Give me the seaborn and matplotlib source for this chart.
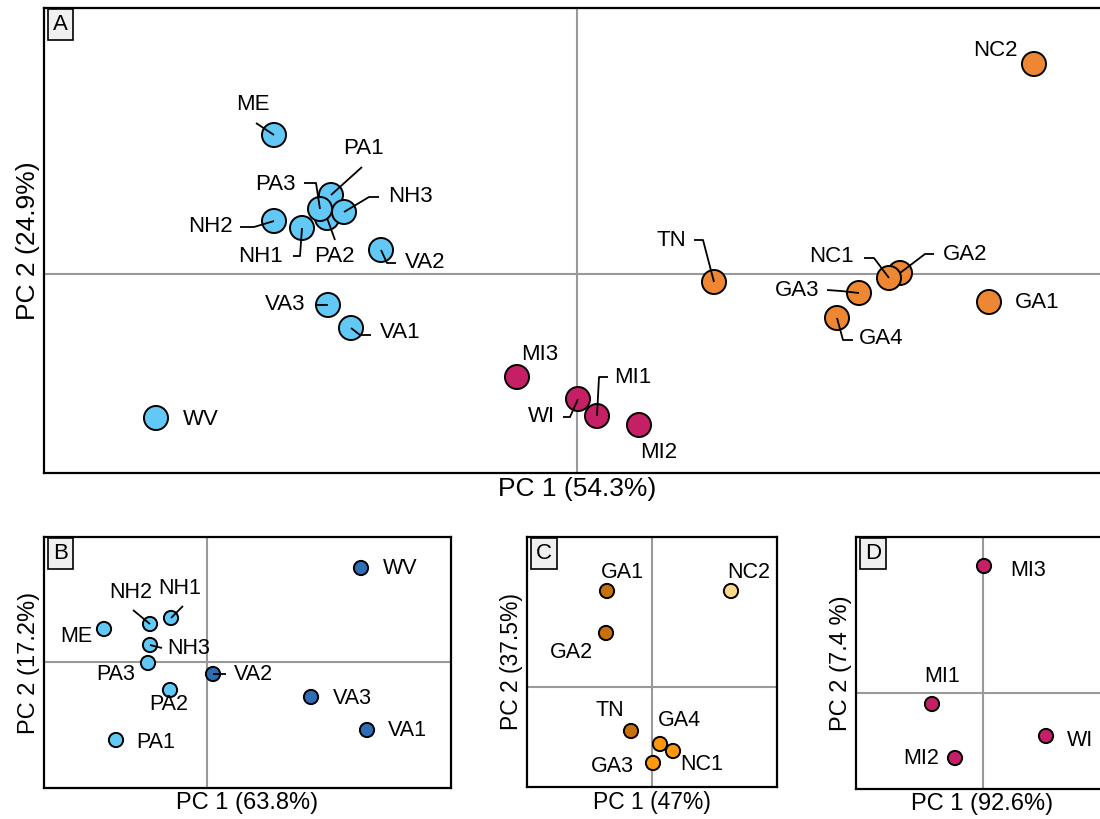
import matplotlib
matplotlib.use("Agg")
import matplotlib.pyplot as plt
import seaborn as sns
import pandas as pd

# ---------------- data ----------------
# Panel A - all populations
a_site = ["ME", "PA1", "PA2", "NH3", "PA3", "NH2", "NH1", "VA2", "VA3", "VA1", "WV",
          "MI3", "WI", "MI1", "MI2",
          "TN", "GA3", "GA4", "GA2", "NC1", "GA1", "NC2"]
a_pc1 = [-3.03, -2.46, -2.50, -2.33, -2.57, -3.03, -2.75, -1.96, -2.49, -2.26, -4.21,
         -0.60, 0.01, 0.20, 0.62,
         1.37, 2.82, 2.60, 3.23, 3.12, 4.12, 4.57]
a_pc2 = [1.39, 0.79, 0.56, 0.62, 0.65, 0.53, 0.46, 0.24, -0.31, -0.54, -1.44,
         -1.03, -1.25, -1.42, -1.51,
         -0.08, -0.19, -0.44, 0.01, -0.04, -0.28, 2.10]
a_group = ["north"] * 11 + ["midwest"] * 4 + ["south"] * 7

# Panel B - northern populations
b_site = ["ME", "NH2", "NH1", "NH3", "PA3", "PA2", "PA1", "VA2", "WV", "VA3", "VA1"]
b_pc1 = [-2.06, -1.14, -0.72, -1.14, -1.18, -0.74, -1.82, 0.12, 3.08, 2.08, 3.20]
b_pc2 = [0.66, 0.76, 0.88, 0.34, -0.02, -0.56, -1.56, -0.24, 1.88, -0.70, -1.36]
b_group = ["ne", "ne", "ne", "ne", "ne", "ne", "ne", "va", "va", "va", "va"]

# Panel C - southern populations
c_site = ["GA1", "GA2", "NC2", "TN", "GA4", "NC1", "GA3"]
c_pc1 = [-0.90, -0.92, 1.58, -0.42, 0.16, 0.42, 0.02]
c_pc2 = [1.92, 1.08, 1.92, -0.88, -1.14, -1.28, -1.52]
c_group = ["dark", "dark", "light", "dark", "mid", "mid", "mid"]

# Panel D - midwest populations
d_site = ["MI3", "MI1", "MI2", "WI"]
d_pc1 = [0.02, -1.02, -0.56, 1.26]
d_pc2 = [2.54, -0.22, -1.30, -0.86]
d_group = ["mw"] * 4

axis_titles = {
    "A": ("PC 1 (54.3%)", "PC 2 (24.9%)"),
    "B": ("PC 1 (63.8%)", "PC 2 (17.2%)"),
    "C": ("PC 1 (47%)", "PC 2 (37.5%)"),
    "D": ("PC 1 (92.6%)", "PC 2 (7.4 %)"),
}

# ---------------- styling / layout ----------------
sns.set_style("white")
plt.rcParams["font.family"] = ["Liberation Sans", "DejaVu Sans"]
plt.rcParams["text.color"] = "black"
plt.rcParams["axes.labelcolor"] = "black"

LIGHT_BLUE = "#62C9F6"
ORANGE = "#EE8733"
MAGENTA = "#C51F66"

# label offsets (pixels, y downwards) and leader elbows
a_labels = {
    "ME": (-21, -30), "PA1": (32, -47), "PA3": (-45, -25), "NH3": (66, -15),
    "PA2": (7, 39), "NH2": (-64, 6), "NH1": (-42, 29), "VA2": (44, 13),
    "VA3": (-43, 0), "VA1": (49, 5), "WV": (45, 2), "MI3": (23, -22),
    "WI": (-37, 18), "MI1": (36, -38), "MI2": (20, 27), "TN": (-43, -41),
    "NC1": (-58, -21), "GA2": (65, -18), "GA3": (-62, -3), "GA4": (44, 20),
    "GA1": (48, 1), "NC2": (-39, -14),
}
a_leaders = {
    "ME": [(-18, -12)], "PA1": [(31, -28)], "PA3": [(-16, -26), (-4, -26)],
    "NH3": [(35, -15), (25, -15)], "PA2": [(8, 22)], "NH2": [(-34, 6), (-20, 6)],
    "NH1": [(-9, 28), (-2, 28)], "VA2": [(15, 13), (6, 13)], "VA3": [(-12, 0)],
    "VA1": [(20, 7), (9, 7)], "WI": [(-15, 18), (-8, 18)], "MI1": [(11, -39), (2, -39)],
    "TN": [(-20, -42), (-11, -42)], "NC1": [(-25, -20), (-15, -20)],
    "GA2": [(34, -19), (25, -19)], "GA3": [(-32, -3), (-18, -2)],
    "GA4": [(16, 22), (6, 22)],
}
b_labels = {
    "ME": (-28, 7), "NH2": (-19, -32), "NH1": (9, -30), "NH3": (39, 3),
    "PA3": (-32, 11), "PA2": (-1, 15), "PA1": (40, 2), "VA2": (40, 0),
    "WV": (39, 1), "VA3": (41, 2), "VA1": (40, 0),
}
b_leaders = {"NH2": [(-17, -14)], "NH1": [(12, -12)], "NH3": [(12, 3)], "VA2": [(13, 0)]}
c_labels = {
    "GA1": (15, -18), "GA2": (-35, 19), "NC2": (18, -19), "TN": (-21, -21),
    "GA4": (19, -24), "NC1": (29, 14), "GA3": (-41, 4),
}
d_labels = {"MI3": (44, 4), "MI1": (10, -27), "MI2": (-34, 0), "WI": (34, 4)}

W, H = 1100, 819
fig = plt.figure(figsize=(W / 100, H / 100), dpi=100)


def add_panel(box, xlim, ylim):
    left, top, right, bottom = box
    ax = fig.add_axes([left / W, 1 - bottom / H, (right - left) / W, (bottom - top) / H])
    ax.set_xlim(*xlim)
    ax.set_ylim(*ylim)
    return ax


def draw_panel(ax, df, palette, size, labels, leaders, letter, titles, fs_axis, pad, lab_fs):
    ax.axhline(0, color="#999999", lw=1.5, zorder=1)
    ax.axvline(0, color="#999999", lw=1.5, zorder=1)
    sns.scatterplot(data=df, x="pc1", y="pc2", hue="group", palette=palette, s=size,
                    edgecolor="black", linewidth=1.4, legend=False, ax=ax, zorder=3)

    # data units per pixel
    pos = ax.get_position()
    sx = (ax.get_xlim()[1] - ax.get_xlim()[0]) / (pos.width * W)
    sy = (ax.get_ylim()[1] - ax.get_ylim()[0]) / (pos.height * H)

    for _, row in df.iterrows():
        dx, dy = labels[row["site"]]
        ax.annotate(row["site"], xy=(row["pc1"], row["pc2"]), xytext=(dx, -dy),
                    textcoords="offset pixels", ha="center", va="center",
                    fontsize=lab_fs, zorder=5)
        if row["site"] in leaders:
            pts = leaders[row["site"]] + [(0, 0)]
            xs = [row["pc1"] + px * sx for px, _ in pts]
            ys = [row["pc2"] - py * sy for _, py in pts]
            ax.plot(xs, ys, color="black", lw=1.3, zorder=4, solid_capstyle="butt")

    ax.set_xticks([])
    ax.set_yticks([])
    ax.set_xlabel(titles[0], fontsize=fs_axis, labelpad=pad)
    ax.set_ylabel(titles[1], fontsize=fs_axis, labelpad=pad)
    for sp in ax.spines.values():
        sp.set_visible(True)
        sp.set_color("black")
        sp.set_linewidth(1.6)
    ax.annotate(letter, xy=(0, 1), xycoords="axes fraction", xytext=(9, -6),
                textcoords="offset pixels", ha="left", va="top", fontsize=16,
                bbox=dict(boxstyle="square,pad=0.22", fc="#f0f0f0", ec="black", lw=1.2))


df_a = pd.DataFrame({"site": a_site, "pc1": a_pc1, "pc2": a_pc2, "group": a_group})
df_b = pd.DataFrame({"site": b_site, "pc1": b_pc1, "pc2": b_pc2, "group": b_group})
df_c = pd.DataFrame({"site": c_site, "pc1": c_pc1, "pc2": c_pc2, "group": c_group})
df_d = pd.DataFrame({"site": d_site, "pc1": d_pc1, "pc2": d_pc2, "group": d_group})

ax_a = add_panel((44, 8, 1110, 473), (-5.33, 5.33), (-1.99, 2.66))
draw_panel(ax_a, df_a, {"north": LIGHT_BLUE, "midwest": MAGENTA, "south": ORANGE}, 300,
           a_labels, a_leaders, "A", axis_titles["A"], 19, 3, 16)

ax_b = add_panel((44, 537, 451, 788), (-3.26, 4.88), (-2.52, 2.50))
draw_panel(ax_b, df_b, {"ne": LIGHT_BLUE, "va": "#2F6EB5"}, 105,
           b_labels, b_leaders, "B", axis_titles["B"], 17, 3, 15.5)

ax_c = add_panel((527, 537, 777, 787), (-2.5, 2.5), (-2.0, 3.0))
draw_panel(ax_c, df_c, {"dark": "#C8700A", "mid": "#FF980F", "light": "#FFD98A"}, 105,
           c_labels, {}, "C", axis_titles["C"], 16.5, 3, 15.5)

ax_d = add_panel((856, 537, 1108, 789), (-2.54, 2.5), (-1.92, 3.12))
draw_panel(ax_d, df_d, {"mw": MAGENTA}, 105,
           d_labels, {}, "D", axis_titles["D"], 17, 3, 15.5)

fig.savefig("out.png", dpi=100, facecolor="white")
